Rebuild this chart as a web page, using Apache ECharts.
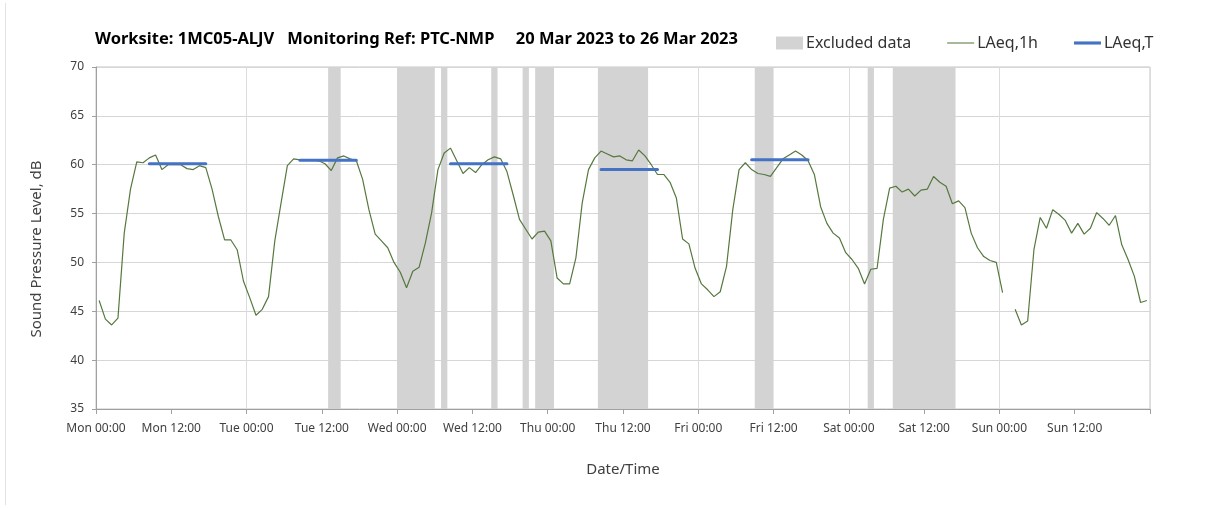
<!DOCTYPE html>
<html>
<head>
<meta charset="utf-8">
<script src="https://cdn.jsdelivr.net/npm/echarts@6/dist/echarts.min.js"></script>
<style>
    html, body { margin: 0; padding: 0; background: #fff; }
    #chart { width: 1208px; height: 508px; }
</style>
</head>
<body>
<div id="chart"></div>
<script>
// hourly LAeq,1h per day (00:00 .. 23:00)
const dayNames = ['Mon', 'Tue', 'Wed', 'Thu', 'Fri', 'Sat', 'Sun'];
const mon = [46.1, 44.2, 43.6, 44.3, 53.0, 57.5, 60.3, 60.2, 60.7, 61.0, 59.5, 60.0, 60.0, 60.0, 59.6, 59.5, 59.9, 59.7, 57.5, 54.7, 52.3, 52.3, 51.3, 48.1];
const tue = [46.4, 44.6, 45.2, 46.5, 52.2, 56.1, 59.9, 60.6, 60.5, 60.5, 60.5, 60.4, 60.1, 59.4, 60.7, 60.9, 60.6, 60.4, 58.5, 55.4, 52.9, 52.2, 51.5, 50.0];
const wed = [49.0, 47.4, 49.1, 49.5, 52.0, 55.1, 59.5, 61.2, 61.7, 60.4, 59.1, 59.7, 59.2, 60.0, 60.5, 60.8, 60.6, 59.3, 56.9, 54.4, 53.4, 52.4, 53.1, 53.2];
const thu = [52.2, 48.4, 47.8, 47.8, 50.5, 56.1, 59.5, 60.7, 61.4, 61.1, 60.8, 60.9, 60.5, 60.4, 61.5, 60.9, 60.0, 59.0, 59.0, 58.2, 56.6, 52.4, 51.9, 49.4];
const fri = [47.8, 47.2, 46.5, 47.0, 49.6, 55.4, 59.5, 60.2, 59.5, 59.1, 59.0, 58.8, 59.7, 60.6, 61.0, 61.4, 61.0, 60.4, 59.0, 55.7, 54.0, 53.0, 52.5, 51.0];
const sat = [50.3, 49.4, 47.8, 49.3, 49.4, 54.4, 57.6, 57.8, 57.2, 57.5, 56.8, 57.4, 57.5, 58.8, 58.2, 57.8, 56.0, 56.3, 55.6, 53.0, 51.5, 50.6, 50.2, 50.0];
const sun = [46.9, null, 45.2, 43.6, 44.0, 51.3, 54.6, 53.5, 55.4, 54.9, 54.3, 53.0, 54.0, 52.9, 53.5, 55.1, 54.5, 53.8, 54.8, 51.8, 50.3, 48.6, 45.9, 46.1];

// LAeq,T over the working day, Mon..Fri
const periodValues = [60.1, 60.45, 60.1, 59.5, 60.5];
const periodHours = [8, 17];

// excluded periods, hours from Mon 00:00
const excluded = [[37, 39], [48, 54], [55, 56], [63, 64], [68, 69], [70, 73], [80, 88], [105, 108], [123, 124], [127, 137]];

const chart = echarts.init(document.getElementById('chart'));
const font = 'Noto Sans';

const hourlyData = [];
[mon, tue, wed, thu, fri, sat, sun].forEach((day, d) => {
    day.forEach((v, h) => hourlyData.push([d * 24 + h + 0.5, v]));
});

const periodData = [];
periodValues.forEach((v, d) => {
    periodData.push([d * 24 + periodHours[0] + 0.5, v]);
    periodData.push([d * 24 + periodHours[1] + 0.5, v]);
    periodData.push([d * 24 + 20, null]);
});

const labelFor = v => {
    if (v >= 168) return '';
    const d = Math.floor(v / 24);
    return dayNames[d] + ' ' + (v % 24 === 0 ? '00:00' : '12:00');
};

chart.setOption({
    animation: false,
    title: {
        text: 'Worksite: 1MC05-ALJV   Monitoring Ref: PTC-NMP     20 Mar 2023 to 26 Mar 2023',
        left: 90,
        top: 26,
        textStyle: { fontFamily: font, fontSize: 16.5, fontWeight: 'bold', color: '#000' }
    },
    legend: {
        left: 776,
        top: 35,
        padding: 0,
        itemWidth: 27,
        itemHeight: 13,
        itemGap: 36,
        textStyle: { fontFamily: font, fontSize: 16, color: '#333', padding: [0, 0, 0, -2] },
        data: [
            { name: 'Excluded data', icon: 'rect' },
            { name: 'LAeq,1h', icon: 'path://M0,0H26V1H0Z' },
            { name: 'LAeq,T', icon: 'path://M0,0H26V3H0Z' }
        ]
    },
    graphic: [{
        type: 'line',
        shape: { x1: 5.5, y1: 3, x2: 5.5, y2: 505 },
        style: { stroke: '#e3e3e3', lineWidth: 1 }
    }],
    grid: {
        left: 96,
        right: 58,
        top: 67,
        bottom: 99,
        show: true,
        borderColor: '#c4c4c4',
        borderWidth: 1
    },
    xAxis: [{
        type: 'value',
        min: 0,
        max: 168,
        interval: 12,
        name: 'Date/Time',
        nameLocation: 'middle',
        nameGap: 53,
        nameTextStyle: { fontFamily: font, fontSize: 15, color: '#404040' },
        axisLine: { lineStyle: { color: '#a0a0a0' } },
        axisTick: { length: 5, lineStyle: { color: '#a0a0a0' } },
        axisLabel: { formatter: labelFor, margin: 14, fontFamily: font, fontSize: 12, color: '#404040' },
        splitLine: { show: false }
    }, {
        type: 'value',
        min: 0,
        max: 168,
        interval: 24,
        position: 'bottom',
        axisLine: { show: false },
        axisTick: { show: false },
        axisLabel: { show: false },
        splitLine: { lineStyle: { color: '#dcdcdc' } }
    }],
    yAxis: {
        type: 'value',
        min: 35,
        max: 70,
        interval: 5,
        name: 'Sound Pressure Level, dB',
        nameLocation: 'middle',
        nameGap: 52,
        nameTextStyle: { fontFamily: font, fontSize: 15, color: '#404040', padding: [0, 22, 0, 0] },
        axisLine: { show: true, lineStyle: { color: '#a0a0a0' } },
        axisTick: { show: true, length: 4, lineStyle: { color: '#a0a0a0' } },
        axisLabel: { margin: 12, fontFamily: font, fontSize: 12, color: '#404040' },
        splitLine: { lineStyle: { color: '#d6d6d6' } }
    },
    series: [
        {
            name: 'Excluded data',
            type: 'line',
            data: [],
            color: '#d3d3d3',
            markArea: {
                silent: true,
                itemStyle: { color: '#d3d3d3' },
                data: excluded.map(([a, b]) => [{ xAxis: a }, { xAxis: b }])
            }
        },
        {
            name: 'LAeq,1h',
            type: 'line',
            data: hourlyData,
            symbol: 'none',
            connectNulls: false,
            color: '#56783f',
            lineStyle: { width: 1.2, color: '#56783f' },
            z: 3
        },
        {
            name: 'LAeq,T',
            type: 'line',
            data: periodData,
            symbol: 'none',
            connectNulls: false,
            color: '#4472c4',
            lineStyle: { width: 3, color: '#4472c4', cap: 'round' },
            z: 4
        }
    ]
});
</script>
</body>
</html>
